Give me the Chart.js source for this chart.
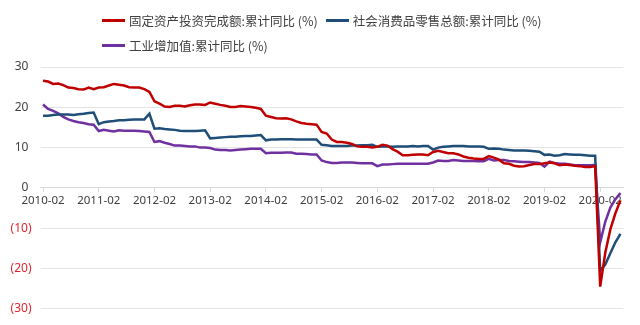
<!DOCTYPE html>
<html>
<head>
<meta charset="utf-8">
<script src="https://cdn.jsdelivr.net/npm/chart.js@4/dist/chart.umd.min.js"></script>
<style>
  html, body { margin: 0; padding: 0; background: #fff; }
  #wrap { position: relative; width: 640px; height: 325px; }
  #legend {
    position: absolute; left: 102px; top: 11px; width: 455px;
    display: flex; flex-wrap: wrap; column-gap: 8px; row-gap: 7px;
    font-family: 'Noto Sans CJK SC', 'Noto Sans', sans-serif; font-size: 12.5px; color: #404040;
  }
  #legend .item { display: flex; align-items: center; height: 18px; white-space: nowrap; }
  #legend .sw { display: inline-block; width: 23px; height: 3px; margin-right: 4px; }
</style>
</head>
<body>
<div id="wrap">
  <canvas id="c" width="640" height="325"></canvas>
  <div id="legend"></div>
</div>
<script>
// ---- categories (monthly, Jan merged into Feb) ----
const categories = [
  '2010-02','2010-03','2010-04','2010-05','2010-06','2010-07','2010-08','2010-09','2010-10','2010-11','2010-12',
  '2011-02','2011-03','2011-04','2011-05','2011-06','2011-07','2011-08','2011-09','2011-10','2011-11','2011-12',
  '2012-02','2012-03','2012-04','2012-05','2012-06','2012-07','2012-08','2012-09','2012-10','2012-11','2012-12',
  '2013-02','2013-03','2013-04','2013-05','2013-06','2013-07','2013-08','2013-09','2013-10','2013-11','2013-12',
  '2014-02','2014-03','2014-04','2014-05','2014-06','2014-07','2014-08','2014-09','2014-10','2014-11','2014-12',
  '2015-02','2015-03','2015-04','2015-05','2015-06','2015-07','2015-08','2015-09','2015-10','2015-11','2015-12',
  '2016-02','2016-03','2016-04','2016-05','2016-06','2016-07','2016-08','2016-09','2016-10','2016-11','2016-12',
  '2017-02','2017-03','2017-04','2017-05','2017-06','2017-07','2017-08','2017-09','2017-10','2017-11','2017-12',
  '2018-02','2018-03','2018-04','2018-05','2018-06','2018-07','2018-08','2018-09','2018-10','2018-11','2018-12',
  '2019-02','2019-03','2019-04','2019-05','2019-06','2019-07','2019-08','2019-09','2019-10','2019-11','2019-12',
  '2020-02','2020-03','2020-04','2020-05','2020-06'
];

// ---- tick labels ----
const xTickLabels = ['2010-02','2011-02','2012-02','2013-02','2014-02','2015-02','2016-02','2017-02','2018-02','2019-02','2020-02'];
const yTickValues = [30, 20, 10, 0, -10, -20, -30];

// ---- series names ----
const seriesNames = ['固定资产投资完成额:累计同比 (%)', '社会消费品零售总额:累计同比 (%)', '工业增加值:累计同比 (%)'];

// ---- series values ----
const fixedAssetInvestment = [
  26.6, 26.4, 25.8, 25.9, 25.5, 24.9, 24.8, 24.5, 24.4, 24.9, 24.5,
  24.9, 25.0, 25.4, 25.8, 25.6, 25.4, 25.0, 24.9, 24.9, 24.5, 23.8,
  21.5, 20.9, 20.2, 20.1, 20.4, 20.4, 20.2, 20.5, 20.7, 20.7, 20.6,
  21.2, 20.9, 20.6, 20.4, 20.1, 20.1, 20.3, 20.2, 20.1, 19.9, 19.6,
  17.9, 17.6, 17.3, 17.2, 17.3, 17.0, 16.5, 16.1, 15.9, 15.8, 15.7,
  13.9, 13.5, 12.0, 11.4, 11.4, 11.2, 10.9, 10.3, 10.2, 10.2, 10.0,
  10.2, 10.7, 10.5, 9.6, 9.0, 8.1, 8.1, 8.2, 8.3, 8.3, 8.1,
  8.9, 9.2, 8.9, 8.6, 8.6, 8.3, 7.8, 7.5, 7.3, 7.2, 7.2,
  7.9, 7.5, 7.0, 6.1, 6.0, 5.5, 5.3, 5.4, 5.7, 5.9, 5.9,
  6.1, 6.3, 6.1, 5.6, 5.8, 5.7, 5.5, 5.4, 5.2, 5.2, 5.4,
  -24.5, -16.1, -10.3, -6.3, -3.1
];
const retailSales = [
  17.9, 17.9, 18.1, 18.2, 18.2, 18.2, 18.1, 18.3, 18.4, 18.6, 18.7,
  15.8, 16.3, 16.5, 16.6, 16.8, 16.8, 16.9, 17.0, 17.0, 17.0, 18.4,
  14.7, 14.8, 14.6, 14.5, 14.4, 14.2, 14.1, 14.1, 14.1, 14.2, 14.3,
  12.3, 12.4, 12.5, 12.6, 12.7, 12.7, 12.8, 12.9, 12.9, 13.0, 13.1,
  11.8, 12.0, 12.0, 12.1, 12.1, 12.1, 12.0, 12.0, 12.0, 12.0, 12.0,
  10.7, 10.6, 10.4, 10.4, 10.4, 10.4, 10.5, 10.5, 10.6, 10.6, 10.7,
  10.2, 10.3, 10.3, 10.2, 10.3, 10.3, 10.3, 10.4, 10.3, 10.4, 10.4,
  9.5, 10.0, 10.2, 10.3, 10.4, 10.4, 10.4, 10.3, 10.3, 10.3, 10.2,
  9.7, 9.8, 9.7, 9.5, 9.4, 9.3, 9.3, 9.3, 9.2, 9.1, 9.0,
  8.2, 8.3, 8.0, 8.1, 8.4, 8.3, 8.2, 8.2, 8.1, 8.0, 8.0,
  -20.5, -19.0, -16.2, -13.5, -11.4
];
const industrialValueAdded = [
  20.7, 19.6, 19.1, 18.5, 17.6, 17.0, 16.6, 16.3, 16.1, 15.8, 15.7,
  14.1, 14.4, 14.2, 14.0, 14.3, 14.2, 14.2, 14.2, 14.1, 14.0, 13.9,
  11.4, 11.6, 11.2, 10.9, 10.5, 10.5, 10.4, 10.3, 10.3, 10.0, 10.0,
  9.9, 9.5, 9.4, 9.4, 9.3, 9.4, 9.5, 9.6, 9.7, 9.7, 9.7,
  8.6, 8.7, 8.7, 8.7, 8.8, 8.8, 8.5, 8.5, 8.4, 8.3, 8.3,
  6.8, 6.4, 6.2, 6.2, 6.3, 6.3, 6.3, 6.2, 6.1, 6.1, 6.1,
  5.4, 5.8, 5.8, 5.9, 6.0, 6.0, 6.0, 6.0, 6.0, 6.0, 6.0,
  6.3, 6.8, 6.7, 6.7, 6.9, 6.8, 6.7, 6.7, 6.7, 6.6, 6.6,
  7.2, 6.8, 6.9, 6.9, 6.7, 6.6, 6.5, 6.4, 6.4, 6.3, 6.2,
  5.3, 6.5, 6.2, 6.0, 6.0, 5.8, 5.6, 5.6, 5.6, 5.6, 5.7,
  -13.5, -8.4, -4.9, -2.8, -1.3
];

const seriesColors = ['#c00000', '#1f4e79', '#7030a0'];

const htmlLegend = {
  id: 'htmlLegend',
  afterUpdate(chart) {
    const box = document.getElementById('legend');
    box.innerHTML = '';
    chart.data.datasets.forEach(ds => {
      const item = document.createElement('div');
      item.className = 'item';
      const sw = document.createElement('span');
      sw.className = 'sw';
      sw.style.background = ds.borderColor;
      const tx = document.createElement('span');
      tx.textContent = ds.label;
      item.append(sw, tx);
      box.append(item);
    });
  }
};

const tickFont = { family: "'Noto Sans', 'Noto Sans CJK SC', sans-serif", size: 12 };

function mkDataset(i, values) {
  return {
    label: seriesNames[i],
    data: values,
    borderColor: seriesColors[i],
    backgroundColor: seriesColors[i],
    borderWidth: 2.5,
    pointRadius: 0,
    tension: 0,
    fill: false
  };
}

new Chart(document.getElementById('c'), {
  type: 'line',
  data: {
    labels: categories,
    datasets: [
      mkDataset(0, fixedAssetInvestment),
      mkDataset(1, retailSales),
      mkDataset(2, industrialValueAdded)
    ]
  },
  plugins: [htmlLegend],
  options: {
    responsive: false,
    animation: false,
    layout: { padding: { top: 67, bottom: 16, left: 7, right: 17 } },
    plugins: { legend: { display: false }, tooltip: { enabled: false } },
    scales: {
      x: {
        type: 'category',
        position: { y: 0 },
        offset: true,
        grid: { drawOnChartArea: false, drawTicks: true, tickLength: 4, color: '#d9d9d9' },
        border: { display: true, color: '#d9d9d9', width: 1 },
        ticks: {
          autoSkip: false, maxRotation: 0, minRotation: 0, padding: 2,
          font: { family: tickFont.family, size: 11.5 }, color: '#404040',
          callback: (v, i) => xTickLabels.includes(categories[i]) ? categories[i] : null
        }
      },
      y: {
        min: yTickValues[yTickValues.length - 1],
        max: yTickValues[0],
        afterBuildTicks: (scale) => { scale.ticks = yTickValues.map(v => ({ value: v })); },
        afterFit: (scale) => { scale.width = 33.5; },
        grid: { color: '#e3e3e3', drawTicks: false },
        border: { display: false },
        ticks: {
          padding: 9,
          font: tickFont,
          color: (ctx) => ctx.tick.value < 0 ? '#e0262d' : '#404040',
          callback: (v) => v < 0 ? '(' + (-v) + ')' : v + ' '
        }
      }
    }
  }
});
</script>
</body>
</html>
